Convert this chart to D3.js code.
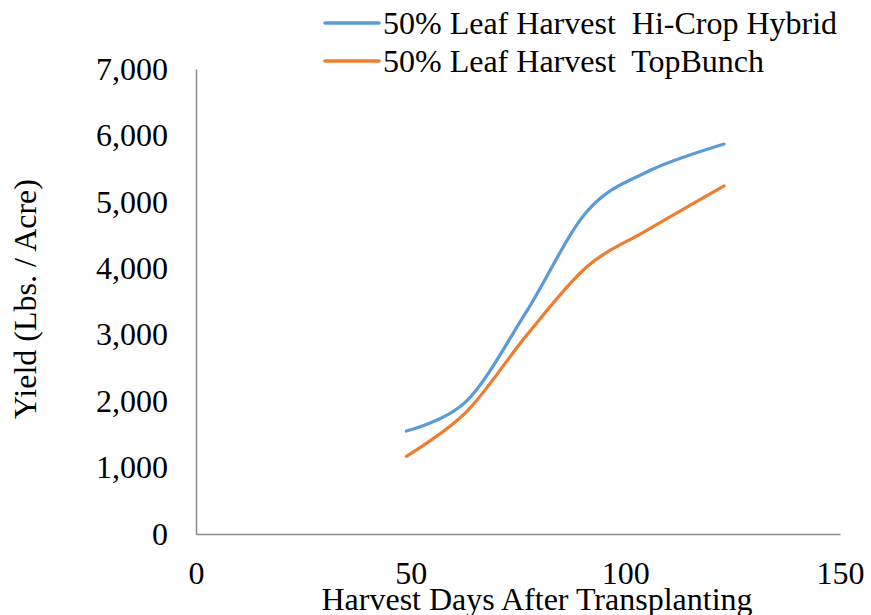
<!DOCTYPE html>
<html>
<head>
<meta charset="utf-8">
<script src="https://cdn.jsdelivr.net/npm/d3@7"></script>
<style>
  html, body { margin: 0; padding: 0; background: #fff; }
  svg { display: block; }
  text { font-family: "Liberation Serif", "Times New Roman", serif; fill: #000; }
</style>
</head>
<body>
<svg id="chart" width="871" height="615"></svg>
<script>
const days = [49, 63, 77, 91, 105, 123];
const hiCropHybrid = [1550, 2000, 3350, 4850, 5450, 5870];
const topBunch = [1170, 1840, 2990, 4020, 4570, 5240];
const seriesNames = ["50% Leaf Harvest  Hi-Crop Hybrid", "50% Leaf Harvest  TopBunch"];
const seriesColors = ["#5B9BD5", "#ED7D31"];
const xTicks = [0, 50, 100, 150];
const yTicks = [0, 1000, 2000, 3000, 4000, 5000, 6000, 7000];
const xTitle = "Harvest Days After Transplanting";
const yTitle = "Yield (Lbs. / Acre)";

const svg = d3.select("#chart");
const x = d3.scaleLinear().domain([0, 150]).range([196, 840]);
const y = d3.scaleLinear().domain([0, 7000]).range([534, 69]);
const fmt = d3.format(",");
const fs = 32;

// axes
const xAxis = svg.append("g").attr("transform", `translate(0,${y(0)})`)
  .call(d3.axisBottom(x).tickValues(xTicks).tickSize(0).tickPadding(27).tickFormat(d3.format("d")));
xAxis.select(".domain").attr("stroke", "#898989").attr("stroke-width", 1.5);
xAxis.selectAll("text").attr("font-size", fs).attr("font-family", "Liberation Serif");

const yAxis = svg.append("g").attr("transform", `translate(${x(0)},0)`)
  .call(d3.axisLeft(y).tickValues(yTicks).tickSize(0).tickPadding(28).tickFormat(fmt));
yAxis.select(".domain").attr("stroke", "#898989").attr("stroke-width", 1.5);
yAxis.selectAll("text").attr("font-size", fs).attr("font-family", "Liberation Serif");

// titles
svg.append("text").attr("x", 537).attr("y", 610).attr("text-anchor", "middle")
  .attr("font-size", fs).text(xTitle);
svg.append("text").attr("transform", "translate(36,299) rotate(-90)")
  .attr("text-anchor", "middle").attr("font-size", fs).text(yTitle);

// lines
const line = d3.line().x(d => x(d[0])).y(d => y(d[1])).curve(d3.curveCardinal.tension(0));
[hiCropHybrid, topBunch].forEach((vals, i) => {
  svg.append("path")
    .datum(days.map((d, j) => [d, vals[j]]))
    .attr("fill", "none")
    .attr("stroke", seriesColors[i])
    .attr("stroke-width", 3.2)
    .attr("stroke-linecap", "round")
    .attr("d", line);
});

// legend
seriesNames.forEach((name, i) => {
  const ly = 23 + i * 38;
  svg.append("line").attr("x1", 325).attr("x2", 379).attr("y1", ly).attr("y2", ly)
    .attr("stroke", seriesColors[i]).attr("stroke-width", 3.5).attr("stroke-linecap", "round");
  svg.append("text").attr("x", 383).attr("y", ly).attr("dy", "0.35em")
    .attr("font-size", fs).style("white-space", "pre").text(name);
});
</script>
</body>
</html>
